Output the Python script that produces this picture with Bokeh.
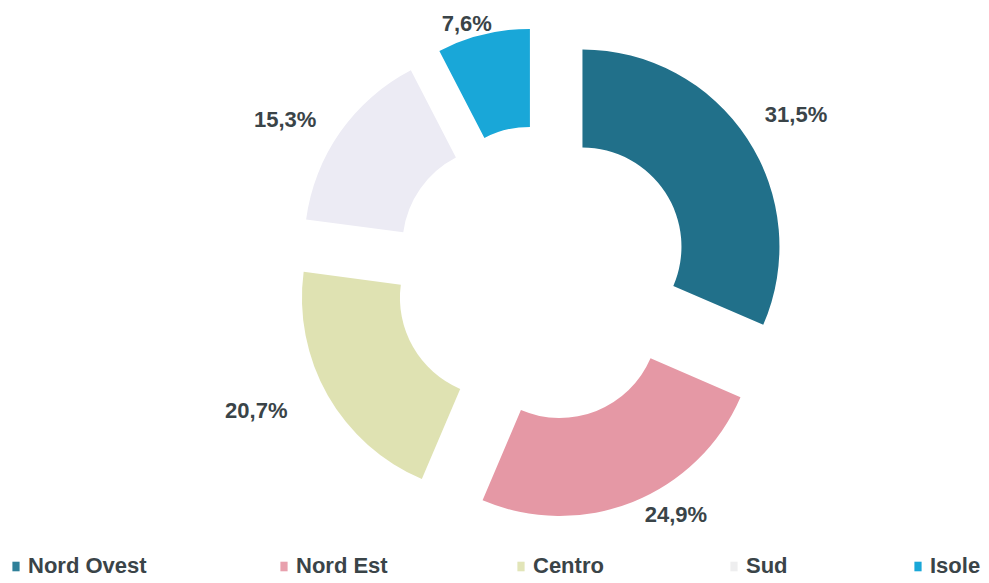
import numpy as np
from bokeh.plotting import figure
from bokeh.models import Range1d, ColumnDataSource, Legend, LegendItem
from bokeh.core.properties import value
from bokeh.embed import file_html
from bokeh.resources import INLINE

# ---- data ----
regions = ["Nord Ovest", "Nord Est", "Centro", "Sud", "Isole"]
shares = [31.5, 24.9, 20.7, 15.3, 7.6]
share_labels = ["31,5%", "24,9%", "20,7%", "15,3%", "7,6%"]
colors = ["#21708a", "#e598a5", "#dfe2b2", "#ecebf4", "#19a7d8"]
legend_colors = ["#2f8099", "#e8a0ad", "#e2e5b8", "#eeeeef", "#19a7d8"]

# ---- layout (pixels) ----
W, H = 985, 579
CX, CY = 541, 306          # donut centre
R_OUT, R_IN = 197, 99
EXPLODE = 49
LABEL_PAD = 18
LABEL_HW, LABEL_HH = 31, 8
label_nudge = [(8, 10), (25, 12), (-29, -2), (-15, -2), (-5, -14)]   # (dx, dy up)
legend_x = [11, 279, 516, 729, 913]
legend_y = 0
TEXT_COLOR = "#3a4448"

p = figure(width=W, height=H, output_backend="svg", toolbar_location=None,
           x_range=Range1d(0, W), y_range=Range1d(0, H), min_border=0)
p.axis.visible = False
p.grid.visible = False
p.outline_line_color = None
p.background_fill_color = "white"

vals = np.array(shares, dtype=float)
total = vals.sum()
ends = np.cumsum(vals) / total * 360.0
starts = ends - vals / total * 360.0
mid = (starts + ends) / 2.0
ux = np.sin(np.radians(mid))
uy = np.cos(np.radians(mid))
xs = CX + EXPLODE * ux
ys = CY + EXPLODE * uy

src = ColumnDataSource(dict(
    x=xs, y=ys,
    sa=np.radians(90.0 - ends), ea=np.radians(90.0 - starts),
    color=colors, region=regions,
))
p.annular_wedge(x="x", y="y", inner_radius=R_IN, outer_radius=R_OUT,
                start_angle="sa", end_angle="ea", direction="anticlock",
                fill_color="color", line_color=None, source=src)

lx = xs + (R_OUT + LABEL_PAD) * ux + LABEL_HW * ux + np.array([n[0] for n in label_nudge])
ly = ys + (R_OUT + LABEL_PAD) * uy + LABEL_HH * uy + np.array([n[1] for n in label_nudge])
lsrc = ColumnDataSource(dict(x=lx, y=ly, t=share_labels))
p.text(x="x", y="y", text="t", source=lsrc, text_font=value("Liberation Sans"),
       text_font_style="bold", text_font_size="22px", text_color=TEXT_COLOR,
       text_align="center", text_baseline="middle")

for name, c, x0 in zip(regions, legend_colors, legend_x):
    # off-screen proxy quad so the legend has a filled square swatch
    r = p.quad(left=[-50], right=[-40], top=[-40], bottom=[-50], fill_color=c, line_color=None)
    leg = Legend(items=[LegendItem(label=name, renderers=[r])], location=(x0, legend_y),
                 glyph_width=9, glyph_height=12, label_standoff=8, padding=0, margin=0,
                 spacing=0, border_line_color=None, background_fill_alpha=0,
                 label_text_font="Liberation Sans", label_text_font_style="bold",
                 label_text_font_size="22px", label_text_color=TEXT_COLOR,
                 label_height=20)
    p.add_layout(leg)

open("out.html", "w").write(file_html(p, INLINE))
